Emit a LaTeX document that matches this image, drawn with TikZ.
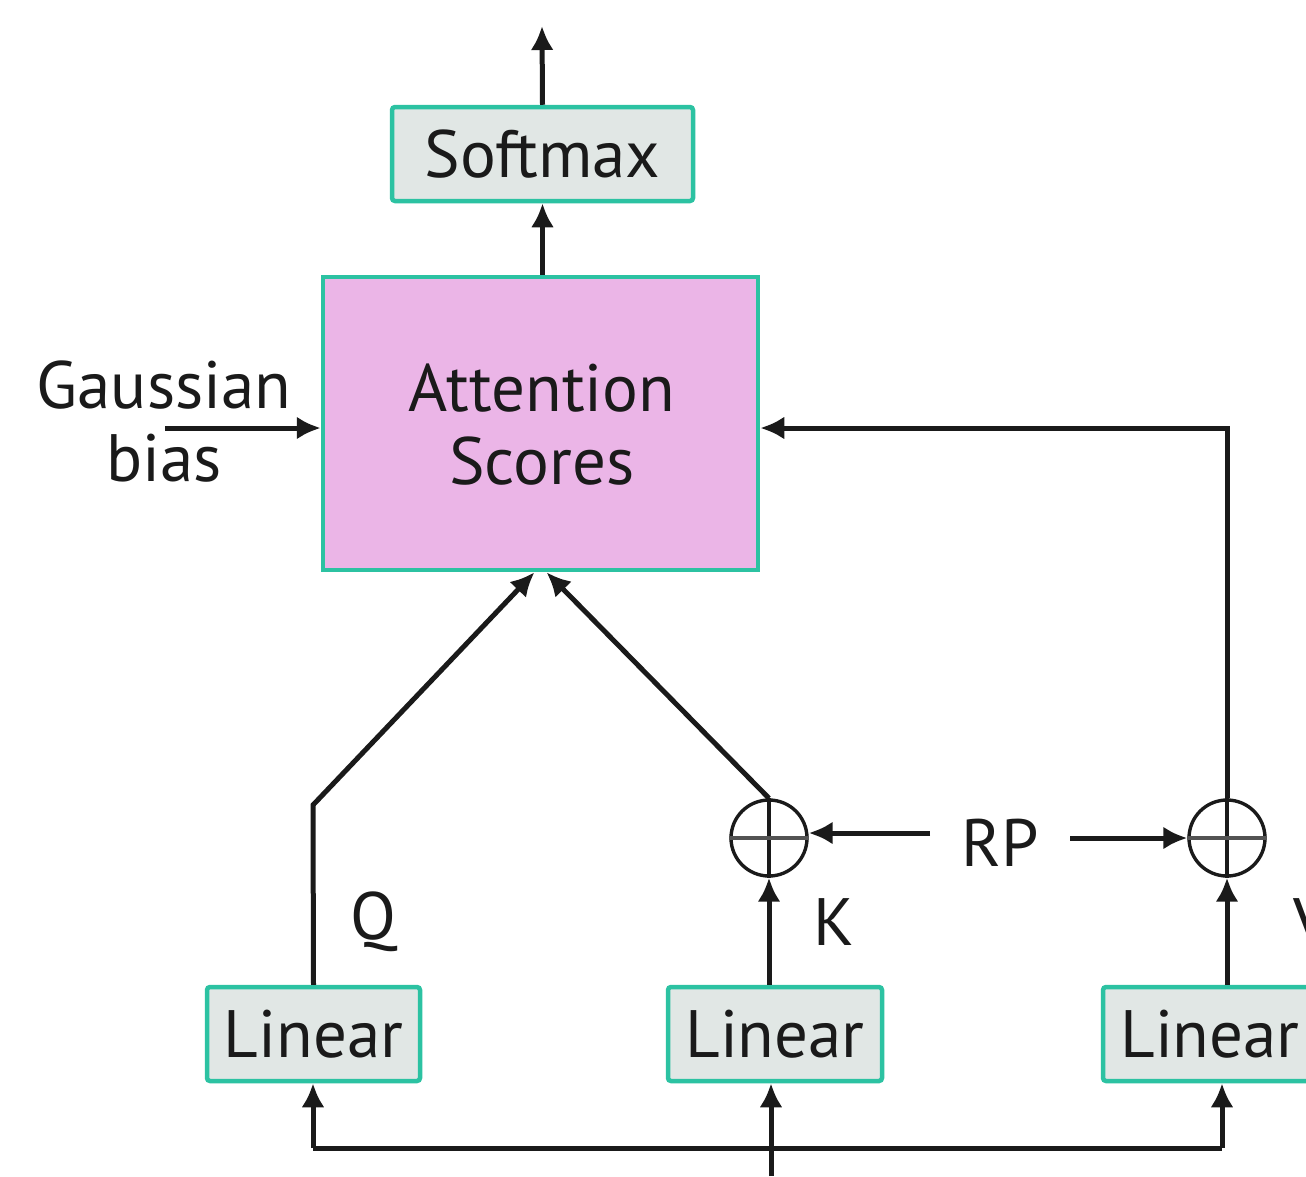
\documentclass[tikz,border=0pt]{standalone}
\usepackage{fontspec}
\setmainfont{PT Sans}
\usetikzlibrary{arrows.meta,calc}
\definecolor{tealedge}{HTML}{2CC2A2}
\definecolor{boxgrey}{HTML}{E1E7E5}
\definecolor{scorepink}{HTML}{EBB5E7}
\definecolor{ink}{HTML}{1A1A1A}
\begin{document}
\begin{tikzpicture}[x=1pt,y=-1pt,
  every node/.style={font=\fontsize{67}{75}\selectfont, text=ink},
  opbox/.style={draw=tealedge, line width=4.5pt, fill=boxgrey, rounded corners=3pt,
    inner sep=0pt, minimum height=94pt},
  scorebox/.style={draw=tealedge, line width=4.5pt, fill=scorepink, inner sep=0pt},
  adder/.style={circle, draw=ink, line width=3.4pt, minimum size=76pt, inner sep=0pt},
  flow/.style={draw=ink, line width=5pt, -{Latex[length=24pt,width=23pt]}},
  wire/.style={draw=ink, line width=5pt},
  lbl/.style={inner sep=0pt}
]
\clip (0,0) rectangle (1306,1176);

% blocks
\node[scorebox, minimum width=435pt, minimum height=293pt] (att) at (540.5,423.5) {};
\node[lbl, align=center] (atttext) at (542,425) {Attention\\[-2pt]Scores};
\node[opbox, minimum width=301pt] (soft) at (542.5,154) {Softmax};
\node[opbox, minimum width=213pt] (linq) at (313.5,1034) {Linear};
\node[opbox, minimum width=214pt] (link) at (775,1034) {Linear};
\node[opbox, minimum width=214pt] (linv) at (1210,1034) {Linear};

% adders with their crosses
\node[adder] (addk) at (769,838) {};
\node[adder] (addv) at (1227,838) {};
\foreach \a in {addk,addv}{
  \draw[ink, line width=3.4pt] (\a.north) -- (\a.south);
  \draw[ink!75, line width=4.4pt] (\a.west) -- (\a.east);
}

% labels
\node[lbl, align=center] (gauss) at (164,422) {Gaussian\\[-2pt]bias};
\node[lbl] (rp) at (1000,843) {RP};
\node[lbl] (qlab) at (373,922) {Q};
\node[lbl] (klab) at (834,922) {K};
\node[lbl] (vlab) at (1313,922) {V};

% free ends and bends
\coordinate (out) at (542,26);
\coordinate (gin) at (165,428);
\coordinate (qbend) at (313,805);
\coordinate (vcorner) at (1227,428);
\coordinate (rpl) at (930,833);
\coordinate (rpr) at (1070,838);
\coordinate (src) at (771,1176);
\coordinate (busl) at (313,1148);
\coordinate (busr) at (1222,1148);

% connectors
\draw[flow] (soft.north) -- (out);
\draw[flow] (att.north -| soft.south) -- (soft.south);
\draw[flow] (gin) -- (att.west |- gin);
\draw[flow] (addv.north) -- (vcorner) -- (att.east |- vcorner);
\draw[flow] (linq.north) -- (qbend) -- ($(att.south)+(-6,0)$);
\draw[flow] (addk.north) -- ($(att.south)+(6,0)$);
\draw[flow] (rpl) -- (addk.east |- rpl);
\draw[flow] (rpr) -- (addv.west |- rpr);
\draw[flow] (link.north -| addk) -- (addk.south);
\draw[flow] (linv.north -| addv) -- (addv.south);
\draw[flow] (src) -- (link.south -| src);
\draw[wire] (busl) -- (busr);
\draw[flow] (busl) -- (linq.south -| busl);
\draw[flow] (busr) -- (linv.south -| busr);
\end{tikzpicture}
\end{document}
